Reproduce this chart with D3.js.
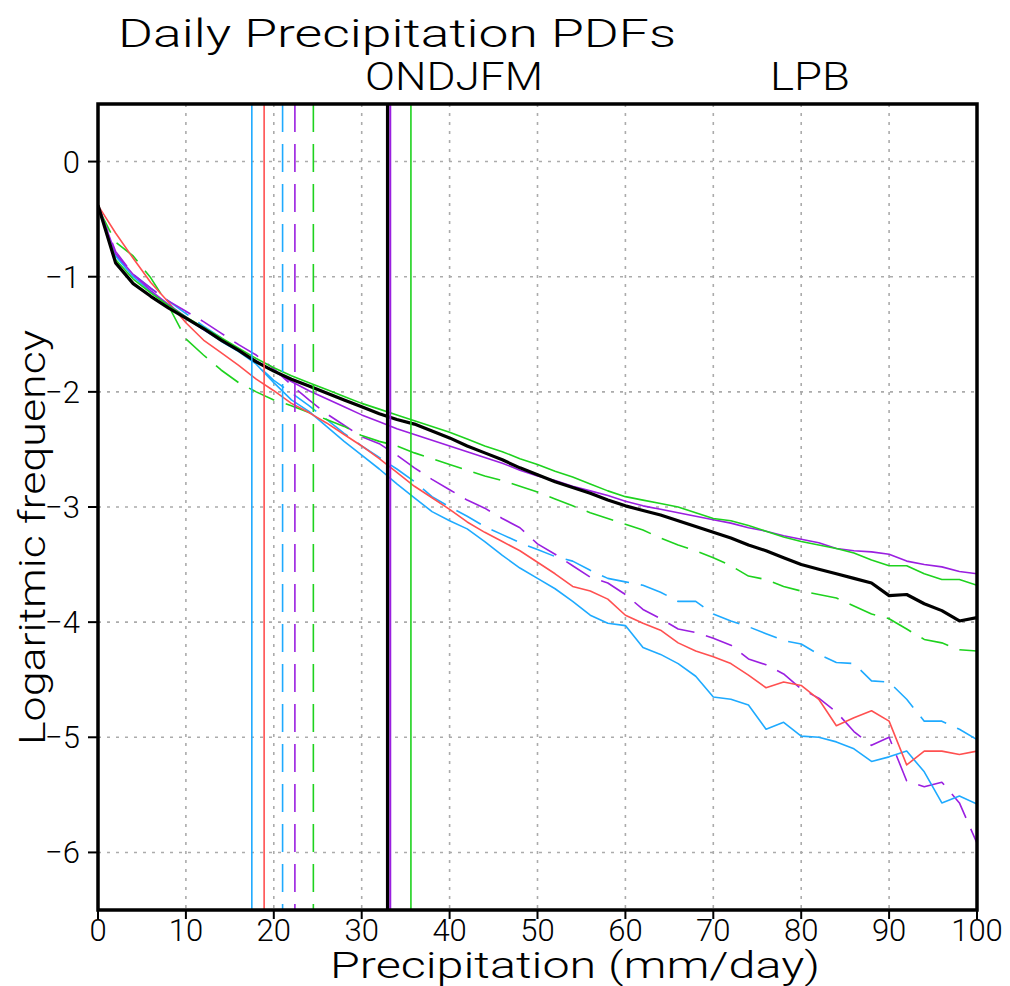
<!DOCTYPE html>
<html>
<head>
<meta charset="utf-8">
<script src="https://cdn.jsdelivr.net/npm/d3@7"></script>
<style>
  body { margin: 0; background: #fff; }
  text { font-family: Roboto, "DejaVu Sans", sans-serif; font-weight: 300; fill: #000; }
</style>
</head>
<body>
<svg id="chart" width="1010" height="986"></svg>
<script>
// precipitation bins (mm/day)
var precip = [0,2,4,6,8,10,12,14,16,18,20,22,24,26,28,30,32,34,36,38,40,42,44,46,48,
  50,52,54,56,58,60,62,64,66,68,70,72,74,76,78,80,82,84,86,88,90,92,94,96,98,100]

// log10 frequency
var blackSolid = [-0.38,-0.88,-1.06,-1.17,-1.27,-1.36,-1.45,-1.55,-1.64,-1.74,
  -1.82,-1.89,-1.95,-2.01,-2.07,-2.13,-2.19,-2.24,-2.28,-2.34,
  -2.40,-2.47,-2.53,-2.59,-2.66,-2.72,-2.78,-2.83,-2.88,-2.94,
  -2.99,-3.03,-3.07,-3.12,-3.17,-3.22,-3.27,-3.33,-3.38,-3.44,
  -3.50,-3.54,-3.58,-3.62,-3.66,-3.77,-3.76,-3.84,-3.90,-3.99,-3.96]
var greenSolid = [-0.40,-0.85,-1.02,-1.14,-1.25,-1.35,-1.44,-1.53,-1.62,-1.71,
  -1.79,-1.86,-1.92,-1.98,-2.04,-2.10,-2.15,-2.20,-2.25,-2.30,
  -2.35,-2.41,-2.47,-2.52,-2.58,-2.63,-2.69,-2.74,-2.80,-2.86,
  -2.91,-2.94,-2.97,-3.00,-3.05,-3.10,-3.12,-3.16,-3.21,-3.26,
  -3.30,-3.33,-3.36,-3.40,-3.46,-3.51,-3.51,-3.58,-3.63,-3.63,-3.68]
var purpleSolid = [-0.38,-0.80,-0.98,-1.12,-1.24,-1.35,-1.46,-1.55,-1.64,-1.73,
  -1.82,-1.91,-1.99,-2.06,-2.13,-2.20,-2.26,-2.32,-2.37,-2.42,
  -2.47,-2.52,-2.57,-2.62,-2.68,-2.73,-2.77,-2.82,-2.86,-2.90,
  -2.95,-2.99,-3.02,-3.05,-3.08,-3.11,-3.14,-3.18,-3.21,-3.25,
  -3.28,-3.31,-3.36,-3.38,-3.39,-3.41,-3.47,-3.50,-3.52,-3.56,-3.58]
var redSolid = [-0.38,-0.62,-0.84,-1.05,-1.22,-1.40,-1.55,-1.66,-1.77,-1.89,
  -1.99,-2.10,-2.18,-2.27,-2.37,-2.47,-2.58,-2.70,-2.82,-2.92,
  -3.02,-3.13,-3.22,-3.30,-3.38,-3.48,-3.58,-3.69,-3.73,-3.80,
  -3.94,-4.01,-4.07,-4.18,-4.25,-4.30,-4.36,-4.46,-4.57,-4.52,
  -4.55,-4.67,-4.90,-4.83,-4.77,-4.86,-5.24,-5.12,-5.12,-5.15,-5.12]
var blueSolid = [-0.38,-0.82,-1.00,-1.13,-1.25,-1.36,-1.46,-1.56,-1.65,-1.76,
  -1.92,-2.07,-2.17,-2.30,-2.43,-2.55,-2.67,-2.80,-2.92,-3.04,
  -3.12,-3.19,-3.30,-3.42,-3.53,-3.62,-3.71,-3.82,-3.94,-4.01,
  -4.03,-4.22,-4.28,-4.36,-4.47,-4.65,-4.67,-4.72,-4.93,-4.87,
  -4.99,-5.00,-5.04,-5.10,-5.21,-5.17,-5.12,-5.30,-5.57,-5.51,-5.58]
var greenDashed = [-0.40,-0.70,-0.82,-1.01,-1.25,-1.54,-1.68,-1.81,-1.92,-2.00,
  -2.07,-2.12,-2.18,-2.24,-2.30,-2.38,-2.43,-2.47,-2.53,-2.58,
  -2.63,-2.68,-2.73,-2.77,-2.82,-2.87,-2.93,-2.99,-3.05,-3.10,
  -3.15,-3.20,-3.27,-3.33,-3.38,-3.44,-3.51,-3.60,-3.63,-3.69,
  -3.73,-3.76,-3.79,-3.86,-3.93,-3.97,-4.06,-4.15,-4.18,-4.24,-4.25]
var purpleDashed = [-0.38,-0.78,-0.98,-1.10,-1.21,-1.30,-1.39,-1.49,-1.59,-1.68,
  -1.80,-1.94,-2.07,-2.19,-2.29,-2.39,-2.45,-2.55,-2.66,-2.76,
  -2.85,-2.94,-3.01,-3.10,-3.18,-3.32,-3.41,-3.51,-3.61,-3.66,
  -3.76,-3.89,-3.97,-4.06,-4.09,-4.14,-4.20,-4.32,-4.37,-4.45,
  -4.58,-4.66,-4.78,-4.95,-5.07,-5.00,-5.38,-5.43,-5.39,-5.57,-5.92]
var blueDashed = [-0.38,-0.82,-0.98,-1.10,-1.21,-1.32,-1.43,-1.53,-1.63,-1.76,
  -1.90,-2.01,-2.12,-2.24,-2.36,-2.47,-2.57,-2.67,-2.78,-2.91,
  -3.00,-3.08,-3.17,-3.24,-3.31,-3.37,-3.43,-3.47,-3.55,-3.62,
  -3.65,-3.68,-3.74,-3.82,-3.82,-3.93,-3.99,-4.04,-4.10,-4.16,
  -4.19,-4.28,-4.35,-4.36,-4.51,-4.52,-4.67,-4.86,-4.86,-4.93,-5.02]

// vertical marker lines (mm/day)
var markerNames = ['blueSolid','redSolid','blueDashed','purpleDashed','greenDashed','blackSolid','purpleSolid','greenSolid']
var markerValues = [17.5, 18.9, 21.0, 22.4, 24.5, 32.95, 33.25, 35.6]

var xTicks = [0,10,20,30,40,50,60,70,80,90,100]
var yTicks = [0,-1,-2,-3,-4,-5,-6]

;(function() {
  var styles = {
    blackSolid:   { color: '#000000', width: 3.2, dash: null },
    greenSolid:   { color: '#1ed21e', width: 1.6, dash: null },
    purpleSolid:  { color: '#9a1fe0', width: 1.6, dash: null },
    redSolid:     { color: '#ff5050', width: 1.6, dash: null },
    blueSolid:    { color: '#1eaaff', width: 1.6, dash: null },
    greenDashed:  { color: '#1ed21e', width: 1.6, dash: '28,12' },
    purpleDashed: { color: '#9a1fe0', width: 1.6, dash: '28,12' },
    blueDashed:   { color: '#1eaaff', width: 1.6, dash: '28,12' }
  }
  var seriesData = {
    blackSolid: blackSolid, greenSolid: greenSolid, purpleSolid: purpleSolid,
    redSolid: redSolid, blueSolid: blueSolid, greenDashed: greenDashed,
    purpleDashed: purpleDashed, blueDashed: blueDashed
  }
  var drawOrder = ['blueDashed','purpleDashed','greenDashed','blueSolid','redSolid','purpleSolid','greenSolid','blackSolid']

  var svg = d3.select('#chart')
  var x0 = 98, x1 = 977, y0 = 104, y1 = 910

  var x = d3.scaleLinear().domain([0, 100]).range([x0, x1])
  var y = d3.scaleLinear().domain([0.5, -6.5]).range([y0, y1])

  // grid
  svg.append('g').selectAll('line').data(xTicks.slice(1, -1)).enter().append('line')
    .attr('x1', d => x(d)).attr('x2', d => x(d)).attr('y1', y0).attr('y2', y1)
    .attr('stroke', '#ababab').attr('stroke-width', 1.6).attr('stroke-dasharray', '3,6')
  svg.append('g').selectAll('line').data(yTicks).enter().append('line')
    .attr('y1', d => y(d)).attr('y2', d => y(d)).attr('x1', x0).attr('x2', x1)
    .attr('stroke', '#ababab').attr('stroke-width', 1.6).attr('stroke-dasharray', '3,6')

  var line = d3.line().x((d, i) => x(precip[i])).y(d => y(d))

  svg.append('clipPath').attr('id', 'plotclip').append('rect')
    .attr('x', x0).attr('y', y0).attr('width', x1 - x0).attr('height', y1 - y0)

  var curves = svg.append('g').attr('clip-path', 'url(#plotclip)')
  drawOrder.forEach(function(k) {
    var s = styles[k]
    curves.append('path')
      .datum(seriesData[k])
      .attr('d', line)
      .attr('fill', 'none')
      .attr('stroke', s.color)
      .attr('stroke-width', s.width)
      .attr('stroke-linejoin', 'round')
      .attr('stroke-dasharray', s.dash)
  })

  // vertical markers
  svg.append('g').selectAll('line').data(markerValues).enter().append('line')
    .attr('x1', d => x(d)).attr('x2', d => x(d)).attr('y1', y0).attr('y2', y1)
    .attr('stroke', (d, i) => styles[markerNames[i]].color)
    .attr('stroke-width', (d, i) => markerNames[i] == 'blackSolid' ? 3.4 : (markerNames[i] == 'purpleSolid' ? 2 : 1.6))
    .attr('stroke-dasharray', (d, i) => styles[markerNames[i]].dash)

  // frame
  svg.append('rect').attr('x', x0).attr('y', y0).attr('width', x1 - x0).attr('height', y1 - y0)
    .attr('fill', 'none').attr('stroke', '#000').attr('stroke-width', 3.5)

  // ticks + labels
  svg.append('g').selectAll('line').data(xTicks).enter().append('line')
    .attr('x1', d => x(d)).attr('x2', d => x(d)).attr('y1', y1).attr('y2', y1 + 9)
    .attr('stroke', '#000').attr('stroke-width', 2)
  svg.append('g').selectAll('text').data(xTicks).enter().append('text')
    .attr('x', d => x(d)).attr('y', y1 + 31)
    .attr('text-anchor', 'middle').attr('font-size', 31)
    .text(d => d)

  svg.append('g').selectAll('line').data(yTicks).enter().append('line')
    .attr('x1', x0 - 10).attr('x2', x0).attr('y1', d => y(d)).attr('y2', d => y(d))
    .attr('stroke', '#000').attr('stroke-width', 2)
  svg.append('g').selectAll('text').data(yTicks).enter().append('text')
    .attr('x', x0 - 18).attr('y', d => y(d) + 11)
    .attr('text-anchor', 'end').attr('font-size', 31)
    .text(d => d < 0 ? '\u2212' + (-d) : d)

  // titles
  svg.append('text').attr('x', 118).attr('y', 47).attr('font-size', 38)
    .attr('textLength', 558).attr('lengthAdjust', 'spacingAndGlyphs').text('Daily Precipitation PDFs')
  svg.append('text').attr('x', 365).attr('y', 90).attr('font-size', 38)
    .attr('textLength', 178).attr('lengthAdjust', 'spacingAndGlyphs').text('ONDJFM')
  svg.append('text').attr('x', 770).attr('y', 90).attr('font-size', 38)
    .attr('textLength', 80).attr('lengthAdjust', 'spacingAndGlyphs').text('LPB')
  svg.append('text').attr('x', 330).attr('y', 978).attr('font-size', 36)
    .attr('textLength', 490).attr('lengthAdjust', 'spacingAndGlyphs').text('Precipitation (mm/day)')
  svg.append('text').attr('transform', 'translate(45,745) rotate(-90)').attr('font-size', 37)
    .attr('textLength', 415).attr('lengthAdjust', 'spacingAndGlyphs').text('Logaritmic frequency')
})()
</script>
</body>
</html>
